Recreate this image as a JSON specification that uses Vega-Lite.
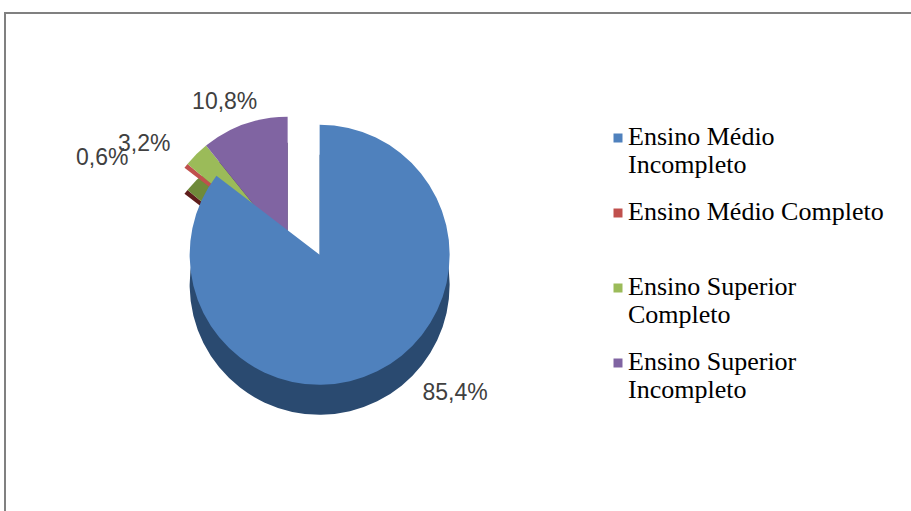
{
  "$schema": "https://vega.github.io/schema/vega-lite/v6.json",
  "width": 920,
  "height": 520,
  "autosize": {"type": "none"},
  "padding": {"left": 5, "top": 13, "right": 0, "bottom": 0},
  "data": {
    "values": [
      {"cat": "Ensino Médio Incompleto", "value": 85.4, "label": "85,4%", "order": 1},
      {"cat": "Ensino Médio Completo", "value": 0.6, "label": "0,6%", "order": 2},
      {"cat": "Ensino Superior Completo", "value": 3.2, "label": "3,2%", "order": 3},
      {"cat": "Ensino Superior Incompleto", "value": 10.8, "label": "10,8%", "order": 4}
    ]
  },
  "encoding": {
    "theta": {"field": "value", "type": "quantitative", "stack": true},
    "order": {"field": "order", "type": "quantitative"}
  },
  "layer": [
    {
      "mark": {"type": "rect", "fill": "transparent", "stroke": "#808080", "strokeWidth": 2},
      "encoding": {}
    },
    {
      "mark": {"type": "arc", "outerRadius": 130, "x": {"expr": "width*0.342"}, "y": {"expr": "height*0.465"}, "xOffset": -32, "yOffset": 18},
      "encoding": {
        "fill": {"condition": [
          {"test": "datum.cat == 'Ensino Médio Completo'", "value": "#5e1d1b"},
          {"test": "datum.cat == 'Ensino Superior Completo'", "value": "#6f8a3a"},
          {"test": "datum.cat == 'Ensino Superior Incompleto'", "value": "#3b2e57"}
        ], "value": "transparent"}
      }
    },
    {
      "mark": {"type": "arc", "outerRadius": 130, "x": {"expr": "width*0.342"}, "y": {"expr": "height*0.465"}, "xOffset": -32, "yOffset": -8},
      "encoding": {
        "color": {"field": "cat", "type": "nominal",
          "scale": {"domain": ["Ensino Médio Incompleto", "Ensino Médio Completo", "Ensino Superior Completo", "Ensino Superior Incompleto"],
                    "range": ["#4f81bd", "#c0504d", "#9bbb59", "#8064a2"]},
          "legend": {
            "orient": "none", "legendX": 600, "legendY": 98, "title": null,
            "symbolType": "M-0.9,1.9H0.9V3.7H-0.9Z", "symbolSize": 100, "symbolStrokeWidth": 0, "symbolOpacity": 1,
            "labelFont": "Liberation Serif", "labelFontSize": 26, "labelColor": "#000000",
            "labelLimit": 400, "labelOffset": -3, "rowPadding": 8, "labelBaseline": "top", "padding": 0,
            "labelExpr": "datum.label == 'Ensino Médio Completo' ? [datum.label, ''] : [substring(datum.label, 0, lastindexof(datum.label, ' ')), substring(datum.label, lastindexof(datum.label, ' ') + 1)]"
          }},
        "opacity": {"condition": {"test": "datum.cat != 'Ensino Médio Incompleto'", "value": 1}, "value": 0}
      }
    },
    {
      "mark": {"type": "arc", "outerRadius": 130, "x": {"expr": "width*0.342"}, "y": {"expr": "height*0.465"}, "yOffset": 30},
      "encoding": {
        "fill": {"condition": {"test": "datum.cat == 'Ensino Médio Incompleto'", "value": "#2a4a70"}, "value": "transparent"}
      }
    },
    {
      "mark": {"type": "arc", "outerRadius": 130, "x": {"expr": "width*0.342"}, "y": {"expr": "height*0.465"}},
      "encoding": {
        "color": {"field": "cat", "type": "nominal"},
        "opacity": {"condition": {"test": "datum.cat == 'Ensino Médio Incompleto'", "value": 1}, "value": 0}
      }
    },
    {
      "mark": {"type": "text", "radius": 150, "x": {"expr": "width*0.342"}, "y": {"expr": "height*0.465"}, "xOffset": 69, "yOffset": 4, "font": "Liberation Sans", "fontSize": 23, "color": "#404040"},
      "encoding": {
        "text": {"condition": {"test": "datum.cat == 'Ensino Médio Incompleto'", "field": "label"}, "value": ""}
      }
    },
    {
      "mark": {"type": "text", "radius": 150, "x": {"expr": "width*0.342"}, "y": {"expr": "height*0.465"}, "xOffset": -45, "yOffset": -11, "font": "Liberation Sans", "fontSize": 23, "color": "#404040"},
      "encoding": {
        "text": {"condition": {"test": "datum.cat == 'Ensino Superior Incompleto'", "field": "label"}, "value": ""}
      }
    },
    {
      "mark": {"type": "text", "radius": 150, "x": {"expr": "width*0.342"}, "y": {"expr": "height*0.465"}, "xOffset": -70, "yOffset": -4, "font": "Liberation Sans", "fontSize": 23, "color": "#404040"},
      "encoding": {
        "text": {"condition": {"test": "datum.cat == 'Ensino Superior Completo'", "field": "label"}, "value": ""}
      }
    },
    {
      "mark": {"type": "text", "radius": 150, "x": {"expr": "width*0.342"}, "y": {"expr": "height*0.465"}, "xOffset": -100, "yOffset": -3, "font": "Liberation Sans", "fontSize": 23, "color": "#404040"},
      "encoding": {
        "text": {"condition": {"test": "datum.cat == 'Ensino Médio Completo'", "field": "label"}, "value": ""}
      }
    }
  ]
}
